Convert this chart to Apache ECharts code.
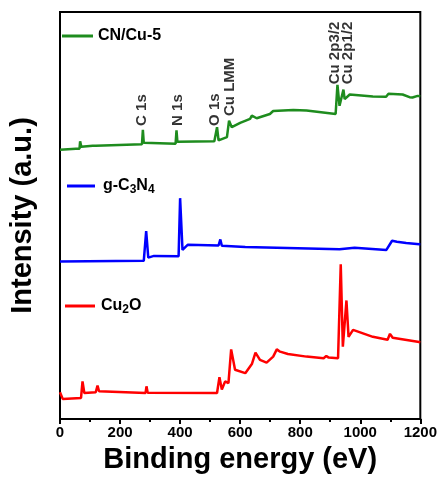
<!DOCTYPE html>
<html><head><meta charset="utf-8">
<script src="https://cdn.jsdelivr.net/npm/echarts@6/dist/echarts.min.js"></script>
<style>html,body{margin:0;padding:0;background:#fff}#c{width:440px;height:479px}</style>
</head><body><div id="c"></div>
<script>
// Binding energy (eV) and offset intensity (a.u.) for each trace
const cnCuEnergy = [0,53,65,67,71,109,114,119,273,276,279,385,388,391,514,523,528,556,563,572,600,633,639,655,699,710,777,821,918,924,931,944,948,965,1042,1086,1094,1141,1164,1174,1191,1200];
const cnCuIntensity = [272,273,273,280.5,275,276,278,276,277.5,292,279,278,291.5,280,280.5,294.7,281.3,284.7,301.3,294.7,299,303,306.3,303.7,308,311,312,311.5,308,337.5,316.3,332.7,323,327.7,325.7,325.5,328.5,327.7,325,324.7,326.3,326];
const gcnEnergy = [0,279,287,294,313,395,400,408,426,528,534,539,617,931,981,1087,1106,1122,1153,1197,1200];
const gcnIntensity = [159,159.7,189.7,163,164.7,164.4,223,170.7,176,175.2,181.3,175,173.7,171.3,173,170.7,180,179,177.7,176.5,176.5];
const cu2oEnergy = [0,9,70,75,81,119,125,130,285,288,292,523,531,539,550,561,570,583,617,639,651,666,688,710,722,733,759,821,878,887,895,926,935,942,954,961,976,1042,1091,1099,1108,1191,1200];
const cu2oIntensity = [27,20.3,21.3,38,26.3,27,33.7,28,26.3,33,26.5,26.3,42.3,29.7,38,36.3,70.3,49.7,46.3,55.5,67,59.7,57,63,70.3,68,65.7,63,61.3,63.7,62,61.3,156.3,73,119.7,83,90,83,80,86,82,78,77.5];
const seriesNames = ['CN/Cu-5','g-C3N4','Cu2O'];
const xTicks = [0,200,400,600,800,1000,1200];
// peak annotations: [energy, intensity at text start, text]
const peakLabels = [[274,296,'C 1s'],[394,296,'N 1s'],[517,296,'O 1s'],[565,306,'Cu LMM'],[915,338,'Cu 2p3/2'],[959,338,'Cu 2p1/2']];

const FONT = "'Liberation Sans', Arial, sans-serif";
const zip = (a,b) => a.map((v,i)=>[v,b[i]]);
const chart = echarts.init(document.getElementById('c'), null, {renderer:'canvas'});
const richLegend = {
  b:{fontSize:16,fontWeight:'bold',color:'#000',fontFamily:FONT},
  s:{fontSize:12,fontWeight:'bold',color:'#000',fontFamily:FONT,padding:[7,0,0,0]}
};
function legendFmt(n){
  if(n==='g-C3N4') return '{b|g-C}{s|3}{b|N}{s|4}';
  if(n==='Cu2O') return '{b|Cu}{s|2}{b|O}';
  return '{b|'+n+'}';
}
function mkLegend(name, left, top, w, gap){
  return {data:[name], left:left, top:top, padding:0, icon:'rect', itemWidth:w, itemHeight:3, itemGap:0,
    selectedMode:false, textStyle:{rich:richLegend, padding:[0,0,0,gap-5]}, formatter:legendFmt};
}
const colors = ['#1e8c1e','#0000ff','#ff0000'];
chart.setOption({
  animation:false,
  grid:{left:59,right:19,top:12,bottom:56,show:true,borderColor:'#000',borderWidth:2},
  legend:[mkLegend(seriesNames[0],62,28,31,5), mkLegend(seriesNames[1],67,178,28,8), mkLegend(seriesNames[2],65,298,30,6)],
  xAxis:{type:'value',min:0,max:1200,interval:200,
    name:'Binding energy (eV)',nameLocation:'middle',nameGap:26,
    nameTextStyle:{fontSize:29,fontWeight:'bold',color:'#000',fontFamily:FONT},
    axisLine:{lineStyle:{color:'#000',width:2}},
    axisTick:{show:true,inside:false,length:5,lineStyle:{color:'#000',width:2}},
    minorTick:{show:true,splitNumber:2,length:3,lineStyle:{color:'#000',width:2}},
    splitLine:{show:false},
    axisLabel:{margin:6,fontSize:15,fontWeight:'bold',color:'#000',fontFamily:FONT,
      customValues:xTicks, formatter:v=>String(v)}},
  yAxis:{type:'value',min:0,max:411,
    name:'Intensity (a.u.)',nameLocation:'middle',nameGap:23,
    nameTextStyle:{fontSize:29,fontWeight:'bold',color:'#000',fontFamily:FONT},
    axisLine:{show:true,lineStyle:{color:'#000',width:2}},axisTick:{show:false},axisLabel:{show:false},splitLine:{show:false}},
  series:[
    {name:seriesNames[0],type:'line',data:zip(cnCuEnergy,cnCuIntensity),showSymbol:false,color:colors[0],lineStyle:{width:2.5,color:colors[0]}},
    {name:seriesNames[1],type:'line',data:zip(gcnEnergy,gcnIntensity),showSymbol:false,color:colors[1],lineStyle:{width:2.5,color:colors[1]}},
    {name:seriesNames[2],type:'line',data:zip(cu2oEnergy,cu2oIntensity),showSymbol:false,color:colors[2],lineStyle:{width:2.5,color:colors[2]}},
    {name:'peaks',type:'scatter',data:peakLabels.map(p=>({value:[p[0],p[1]],name:p[2]})),symbolSize:0,silent:true,
      label:{show:true,formatter:p=>p.name,rotate:90,position:'inside',align:'left',verticalAlign:'middle',
        fontSize:15,fontWeight:'bold',color:'#000',fontFamily:FONT}}
  ]
});
</script></body></html>
